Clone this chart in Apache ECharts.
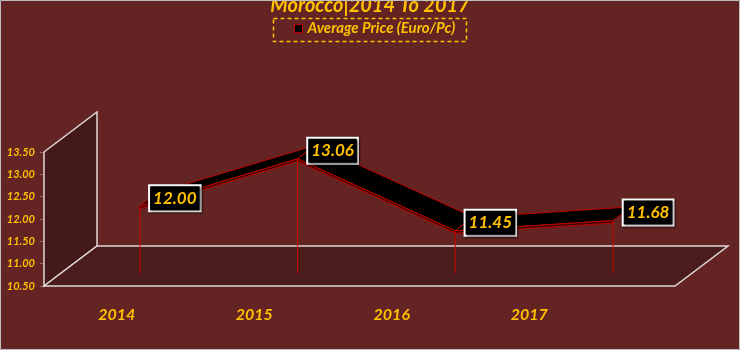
<!DOCTYPE html>
<html>
<head>
<meta charset="utf-8">
<script src="https://cdn.jsdelivr.net/npm/echarts@6/dist/echarts.min.js"></script>
<style>
html,body{margin:0;padding:0;background:#632423;}
#chart{width:740px;height:350px;}
</style>
</head>
<body>
<div id="chart"></div>
<script>
var titleText = 'Morocco|2014 To 2017';
var seriesName = 'Average Price (Euro/Pc)';
var categories = ['2014', '2015', '2016', '2017'];
var prices = [12.00, 13.06, 11.45, 11.68];
var yTicks = { min: 10.5, max: 13.5, interval: 0.5 };

var GOLD = '#ffc000';
var FONT = 'Lato';
var DEPTH = [53, -40];       // full 3D depth offset
var FRONT_D = 0.32;          // ribbon front depth fraction
var BACK_D = 0.66;           // ribbon back depth fraction

function off(p, d) { return [p[0] + DEPTH[0] * d, p[1] + DEPTH[1] * d]; }

var chart = echarts.init(document.getElementById('chart'), null, { renderer: 'canvas' });

var option = {
  animation: false,
  backgroundColor: '#632423',
  title: {
    text: titleText,
    left: 'center',
    top: -9,
    textStyle: { color: GOLD, fontFamily: FONT, fontStyle: 'italic', fontWeight: 'bold', fontSize: 20 }
  },
  legend: {
    left: 294,
    top: 21,
    padding: 0,
    itemWidth: 8,
    itemHeight: 8,
    itemGap: 5,
    data: [{ name: seriesName, icon: 'rect', itemStyle: { color: '#000', borderColor: '#c00000', borderWidth: 1 } }],
    textStyle: { color: GOLD, fontFamily: FONT, fontStyle: 'italic', fontWeight: 'bold', fontSize: 15, padding: [0, 0, 0, 0] }
  },
  graphic: [
    { type: 'rect', shape: { x: 273.5, y: 18.5, width: 193, height: 23 }, style: { fill: 'none', stroke: GOLD, lineWidth: 1.5, lineDash: [4, 3] }, silent: true },
    { type: 'rect', shape: { x: 0.5, y: 0.5, width: 739, height: 349 }, style: { fill: 'none', stroke: '#bfbfbf', lineWidth: 1 }, silent: true, z: 100 }
  ],
  grid: [
    { left: 44, right: 65, top: 152, bottom: 64 },
    { left: 48, right: 142, top: 152, bottom: 64 }
  ],
  xAxis: [
    { type: 'category', gridIndex: 0, data: categories, boundaryGap: true,
      axisLine: { show: false }, axisTick: { show: false }, axisLabel: { show: false }, splitLine: { show: false } },
    { type: 'category', gridIndex: 1, data: categories, boundaryGap: true,
      axisLine: { show: false }, axisTick: { show: false }, splitLine: { show: false },
      axisLabel: { show: true, margin: 21, color: GOLD, fontFamily: FONT, fontStyle: 'italic', fontWeight: 'bold', fontSize: 16 } }
  ],
  yAxis: [
    { type: 'value', gridIndex: 0, min: yTicks.min, max: yTicks.max, interval: yTicks.interval,
      axisLine: { show: false },
      axisTick: { show: true, length: 4, lineStyle: { color: '#8c6b6b' } },
      splitLine: { show: false },
      axisLabel: { margin: 9, color: GOLD, fontFamily: FONT, fontStyle: 'italic', fontWeight: 'bold', fontSize: 11,
        formatter: function (v) { return v.toFixed(2); } } },
    { type: 'value', gridIndex: 1, min: yTicks.min, max: yTicks.max, show: false }
  ],
  series: [
    {
      type: 'custom',
      xAxisIndex: 0, yAxisIndex: 0,
      silent: true,
      z: 1,
      data: [[0, yTicks.min]],
      renderItem: function (params, api) {
        var cs = params.coordSys;
        var x0 = cs.x, x1 = cs.x + cs.width, y0 = cs.y, y1 = cs.y + cs.height;
        var edge = '#e0d8d8';
        var wall = [[x0, y0], off([x0, y0], 1), off([x0, y1], 1), [x0, y1]];
        var floor = [[x0, y1], off([x0, y1], 1), off([x1, y1], 1), [x1, y1]];
        return {
          type: 'group',
          children: [
            { type: 'polygon', shape: { points: wall }, style: { fill: '#431919', stroke: edge, lineWidth: 1.5 } },
            { type: 'polygon', shape: { points: floor }, style: { fill: '#4a1c1c', stroke: edge, lineWidth: 1.5 } }
          ]
        };
      }
    },
    {
      name: seriesName,
      type: 'custom',
      xAxisIndex: 0, yAxisIndex: 0,
      silent: true,
      z: 5,
      itemStyle: { color: '#000' },
      encode: { x: 0, y: 1 },
      data: prices.map(function (v, i) { return [i, v]; }),
      renderItem: function (params, api) {
        var i = api.value(0);
        var v = api.value(1);
        var p = api.coord([i, v]);
        var base = api.coord([i, yTicks.min]);
        var pf = off(p, FRONT_D);
        var bf = off(base, FRONT_D);
        var children = [];
        if (i < prices.length - 1) {
          var q = api.coord([i + 1, prices[i + 1]]);
          var qf = off(q, FRONT_D);
          var pb = off(p, BACK_D), qb = off(q, BACK_D);
          children.push({ type: 'polygon', z2: 2, shape: { points: [pf, qf, qb, pb] },
            style: { fill: '#000', stroke: '#c00000', lineWidth: 1 } });
          children.push({ type: 'polygon', z2: 3, shape: { points: [pf, qf, [qf[0], qf[1] + 2.5], [pf[0], pf[1] + 2.5]] },
            style: { fill: '#3a0808', stroke: '#c00000', lineWidth: 1 } });
        }
        children.push({ type: 'line', z2: 1, shape: { x1: pf[0], y1: pf[1], x2: bf[0], y2: bf[1] },
          style: { stroke: '#d00000', lineWidth: 1 } });
        children.push({ type: 'text', z2: 100, x: pf[0] + 35, y: pf[1] - 8,
          style: {
            text: v.toFixed(2), align: 'center', verticalAlign: 'middle',
            fill: GOLD, fontFamily: FONT, fontStyle: 'italic', fontWeight: 'bold', fontSize: 17,
            backgroundColor: '#000', borderColor: '#ffffff', borderWidth: 2, padding: [4, 3, 3, 3],
            shadowBlur: 2, shadowColor: 'rgba(0,0,0,0.6)', shadowOffsetX: 1, shadowOffsetY: 1
          } });
        return { type: 'group', children: children };
      }
    }
  ]
};
chart.setOption(option);
</script>
</body>
</html>
